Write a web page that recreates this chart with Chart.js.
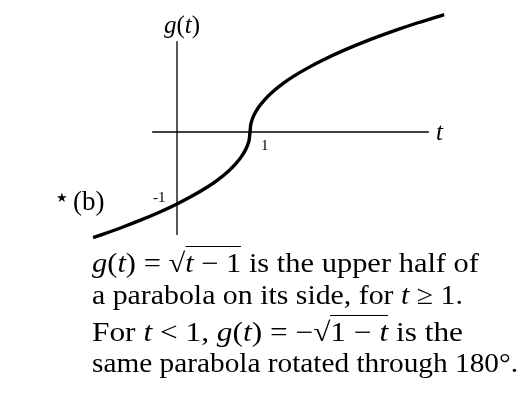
<!DOCTYPE html>
<html>
<head>
<meta charset="utf-8">
<script src="https://cdn.jsdelivr.net/npm/chart.js@4"></script>
<style>
  body { margin: 0; background: #fff; width: 531px; height: 403px; position: relative; overflow: hidden;
         font-family: "Liberation Serif", "DejaVu Serif", serif; color: #000; }
  #graph { position: absolute; left: 80px; top: 0; }
  .lbl { position: absolute; white-space: nowrap; line-height: 1; }
  .line { position: absolute; left: 92px; font-size: 27px; line-height: 27px; white-space: nowrap; transform-origin: 0 0; }
  .rad { border-top: 1.3px solid #000; padding-top: 1px; }
</style>
</head>
<body>
<canvas id="graph" width="380" height="250"></canvas>

<div class="lbl" style="left:164px; top:12px; font-size:25px;"><i>g</i>(<i>t</i>)</div>
<div class="lbl" style="left:436px; top:119px; font-size:25px;"><i>t</i></div>
<div class="lbl" style="left:261px; top:138px; font-size:15px;">1</div>
<div class="lbl" style="left:153px; top:190px; font-size:15px;">-1</div>
<div class="lbl" style="left:56px; top:188px; font-size:27px;"><span style="font-family:'DejaVu Sans'; font-size:13px; vertical-align:8px;">&#x2605;</span>&#x2009;(b)</div>

<div class="line" data-right="479" style="top:250px;"><i>g</i>(<i>t</i>) = &#x221A;<span class="rad"><i>t</i> &#x2212; 1</span> is the upper half of</div>
<div class="line" data-right="463" style="top:282px;">a parabola on its side, for <i>t</i> &#x2265; 1.</div>
<div class="line" data-right="463" style="top:319px;">For <i>t</i> &lt; 1, <i>g</i>(<i>t</i>) = &#x2212;&#x221A;<span class="rad">1 &#x2212; <i>t</i></span> is the</div>
<div class="line" data-right="518" style="top:350px;">same parabola rotated through 180&#xB0;.</div>

<script>
// curve samples: t and g(t)
const tValues = [-1.15, -1.0, -0.75, -0.5, -0.25, 0, 0.2, 0.4, 0.55, 0.7, 0.8, 0.88, 0.94, 0.97, 0.99,
                 1.0, 1.01, 1.03, 1.06, 1.12, 1.2, 1.3, 1.45, 1.6, 1.8, 2.0, 2.3, 2.6, 3.0, 3.3, 3.66];
const gValues = [-1.466, -1.414, -1.323, -1.225, -1.118, -1.0, -0.894, -0.775, -0.671, -0.548, -0.447, -0.346, -0.245, -0.173, -0.1,
                 0, 0.1, 0.173, 0.245, 0.346, 0.447, 0.548, 0.671, 0.775, 0.894, 1.0, 1.14, 1.265, 1.414, 1.517, 1.631];

// axis extents
const tAxisRange = [-0.34, 3.45];
const gAxisRange = [1.26, -1.43];

const curve = tValues.map((t, i) => ({ x: t, y: gValues[i] }));

// stretch each caption line so it ends where it should
document.querySelectorAll('.line').forEach(el => {
  const right = parseFloat(el.dataset.right);
  const w = el.getBoundingClientRect().width;
  el.style.transform = `scaleX(${(right - 92) / w})`;
});

const ctx = document.getElementById('graph').getContext('2d');
new Chart(ctx, {
  type: 'line',
  data: {
    datasets: [
      {
        data: tAxisRange.map(t => ({ x: t, y: 0 })),
        borderColor: '#000',
        borderWidth: 1.3,
        pointRadius: 0
      },
      {
        data: gAxisRange.map(g => ({ x: 0, y: g })),
        borderColor: '#000',
        borderWidth: 1.3,
        pointRadius: 0
      },
      {
        data: curve,
        borderColor: '#000',
        borderWidth: 3.4,
        pointRadius: 0,
        cubicInterpolationMode: 'monotone',
        borderCapStyle: 'butt'
      }
    ]
  },
  options: {
    responsive: false,
    animation: false,
    layout: { padding: 0 },
    plugins: {
      legend: { display: false },
      tooltip: { enabled: false }
    },
    scales: {
      x: { type: 'linear', min: -1.329, max: 3.877, display: false },
      y: { type: 'linear', min: -1.639, max: 1.833, display: false }
    }
  }
});
</script>
</body>
</html>
